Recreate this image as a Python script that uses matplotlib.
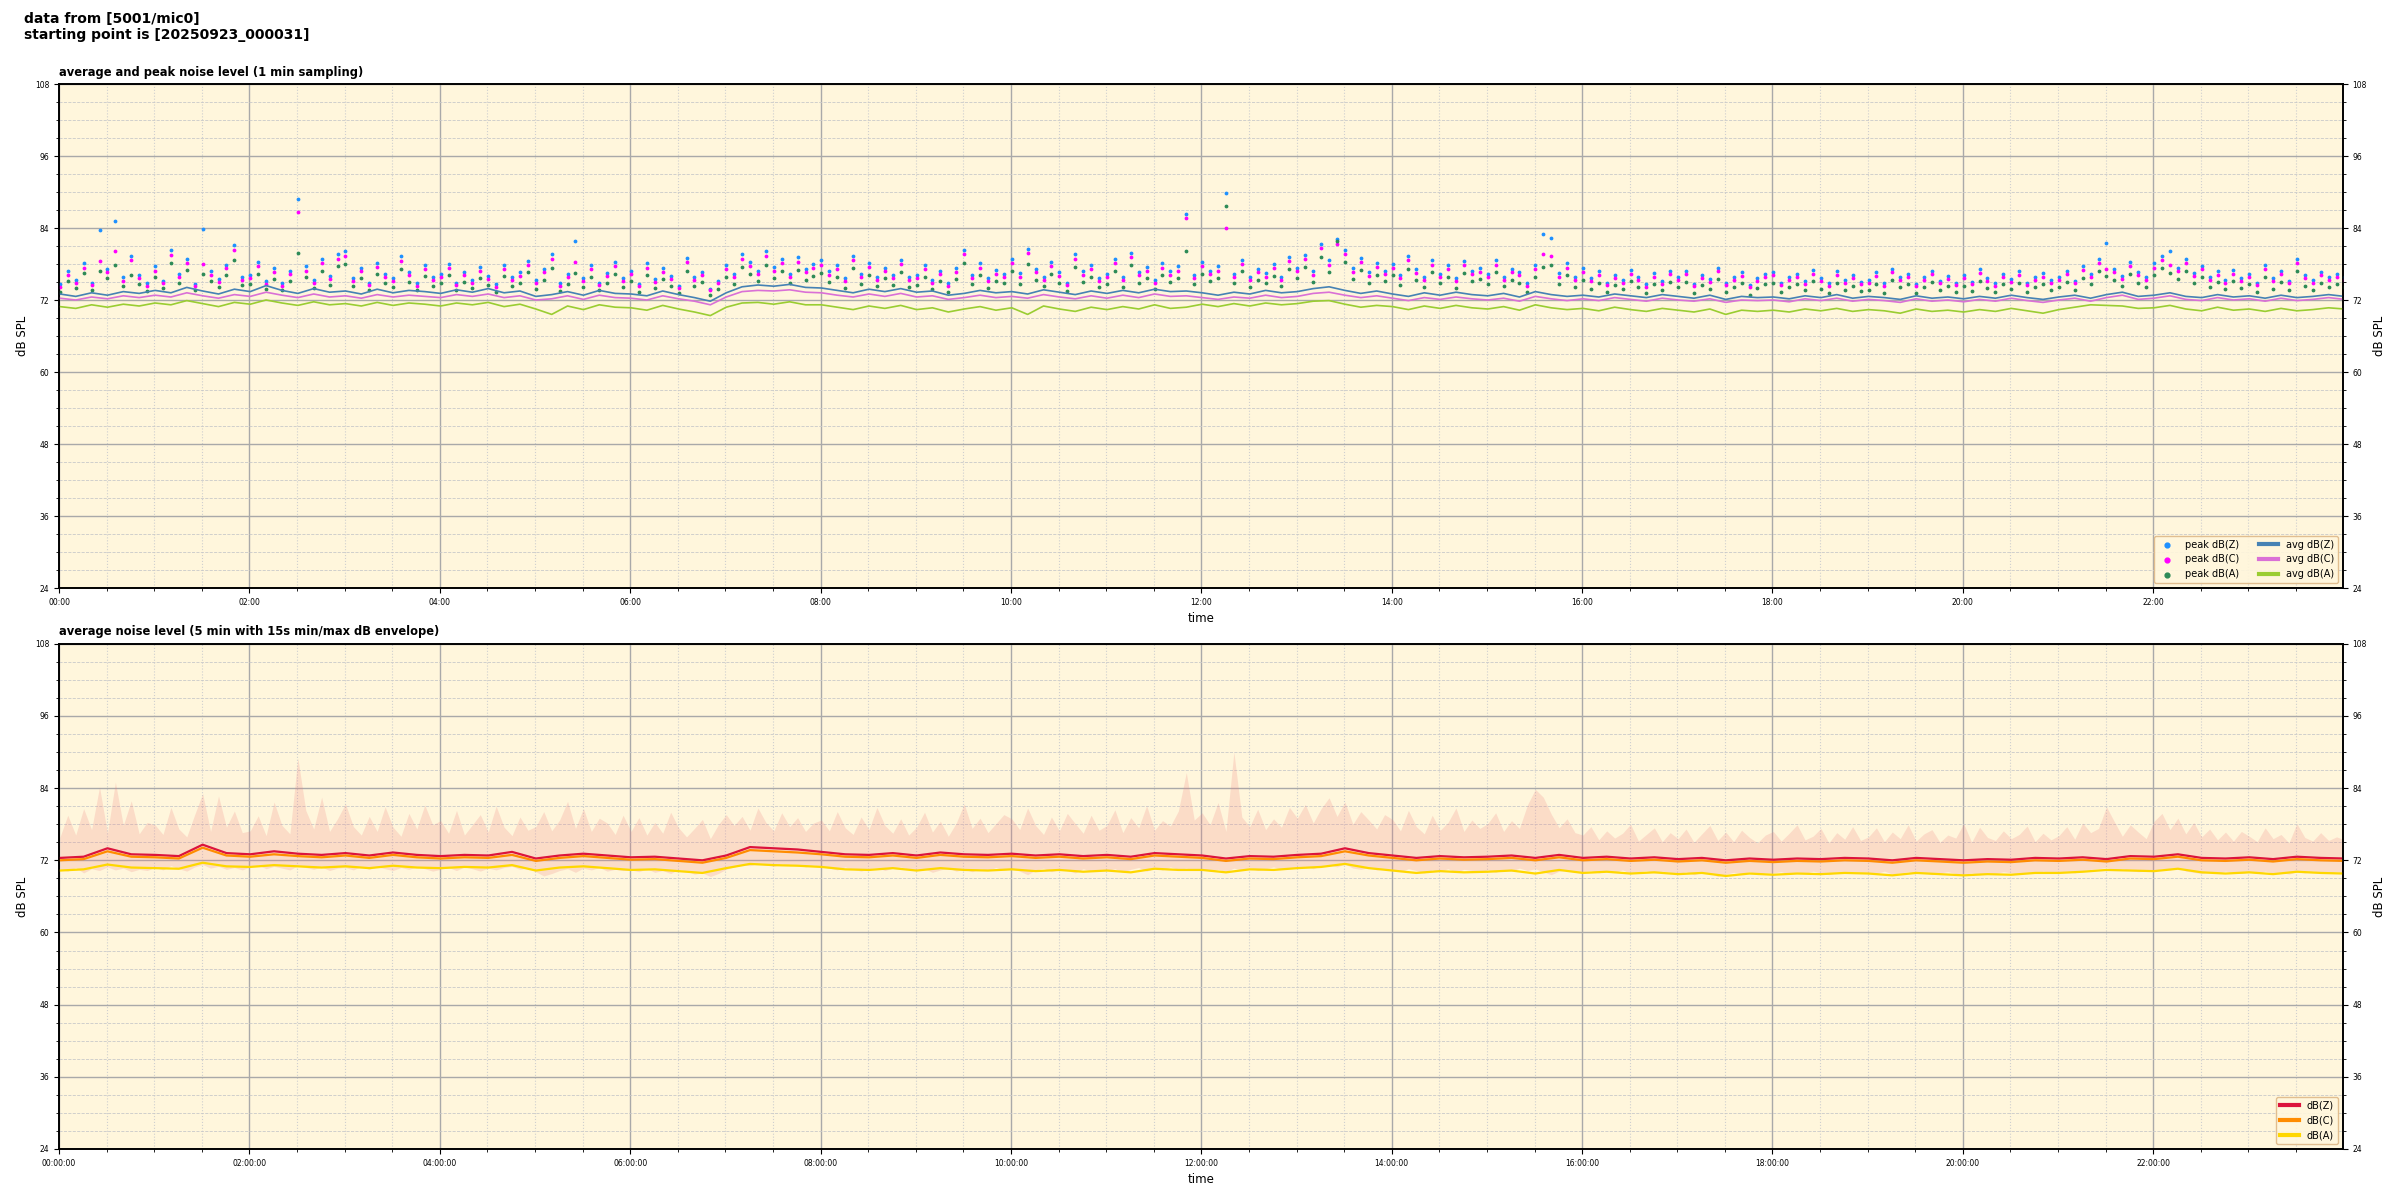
import numpy as np
import pandas as pd
import matplotlib
matplotlib.use("Agg")
import matplotlib.pyplot as plt
import matplotlib.dates as mdates
from matplotlib.ticker import MultipleLocator

# source / start of recording
source = "5001/mic0"
start_stamp = "20250923_000031"
day_start = pd.Timestamp("2025-09-23 00:00:00")
day_end = pd.Timestamp("2025-09-23 23:59:31")

# ---- top panel: 1 min sampling, values read every 10 min (avg) / 5 min (peak) ----
avg_z = [
    73.0, 72.6, 73.2, 72.8, 73.4, 73.1, 73.6, 73.2, 74.1, 73.5, 73.0, 73.8,
    73.4, 74.4, 73.6, 73.1, 73.9, 73.3, 73.5, 73.0, 73.8, 73.2, 73.6, 73.4,
    73.1, 73.7, 73.3, 73.9, 73.2, 73.5, 72.6, 72.9, 73.4, 72.8, 73.6, 73.1,
    73.0, 72.7, 73.5, 72.9, 72.4, 71.8, 73.2, 74.2, 74.5, 74.3, 74.6, 74.1,
    74.0, 73.6, 73.2, 73.8, 73.4, 73.9, 73.3, 73.5, 72.8, 73.1, 73.6, 73.2,
    73.4, 73.0, 73.7, 73.3, 72.9, 73.5, 73.1, 73.6, 73.2, 73.8, 73.4, 73.5,
    73.2, 72.8, 73.3, 73.0, 73.6, 73.2, 73.4, 73.9, 74.2, 73.6, 73.1, 73.5,
    73.0, 72.6, 73.2, 72.8, 73.3, 72.9, 72.7, 73.1, 72.5, 73.4, 72.9, 72.6,
    72.8, 72.5, 73.0, 72.7, 72.4, 72.9, 72.6, 72.3, 72.8, 72.1, 72.6, 72.4,
    72.5, 72.2, 72.7, 72.4, 72.9, 72.3, 72.6, 72.4, 72.1, 72.7, 72.3, 72.5,
    72.2, 72.6, 72.3, 72.8, 72.4, 72.1, 72.5, 72.8, 72.3, 72.9, 73.3, 72.6,
    72.8, 73.2, 72.6, 72.4, 72.9, 72.5, 72.7, 72.3, 72.8, 72.4, 72.6, 72.9,
    72.6,
]
avg_c = [
    72.3, 72.0, 72.5, 72.2, 72.7, 72.4, 72.8, 72.5, 73.2, 72.7, 72.3, 72.9,
    72.6, 73.3, 72.8, 72.4, 73.0, 72.5, 72.7, 72.3, 72.9, 72.5, 72.8, 72.6,
    72.4, 72.9, 72.6, 73.0, 72.4, 72.7, 72.0, 72.2, 72.7, 72.1, 72.8, 72.4,
    72.3, 72.0, 72.7, 72.2, 71.8, 71.2, 72.5, 73.4, 73.6, 73.5, 73.7, 73.3,
    73.2, 72.8, 72.5, 73.0, 72.6, 73.1, 72.5, 72.7, 72.1, 72.4, 72.8, 72.4,
    72.6, 72.3, 72.9, 72.5, 72.2, 72.7, 72.3, 72.8, 72.4, 73.0, 72.6, 72.7,
    72.4, 72.1, 72.5, 72.3, 72.8, 72.4, 72.6, 73.1, 73.3, 72.8, 72.4, 72.7,
    72.3, 71.9, 72.4, 72.1, 72.5, 72.2, 72.0, 72.3, 71.8, 72.6, 72.2, 71.9,
    72.2, 71.9, 72.4, 72.1, 71.8, 72.3, 72.0, 71.8, 72.2, 71.6, 72.0, 71.9,
    72.0, 71.7, 72.2, 71.9, 72.3, 71.8, 72.1, 71.9, 71.6, 72.2, 71.8, 72.0,
    71.7, 72.1, 71.8, 72.3, 71.9, 71.6, 72.0, 72.3, 71.8, 72.4, 72.8, 72.1,
    72.3, 72.7, 72.1, 71.9, 72.4, 72.0, 72.2, 71.8, 72.3, 71.9, 72.1, 72.4,
    72.1,
]
avg_a = [
    70.9, 70.6, 71.2, 70.8, 71.3, 71.0, 71.5, 71.2, 71.9, 71.4, 70.9, 71.6,
    71.3, 72.0, 71.5, 71.1, 71.7, 71.2, 71.4, 71.0, 71.6, 71.1, 71.5, 71.3,
    71.0, 71.5, 71.2, 71.6, 70.9, 71.3, 70.5, 69.6, 71.0, 70.4, 71.2, 70.8,
    70.7, 70.3, 71.1, 70.5, 70.0, 69.4, 70.8, 71.5, 71.6, 71.3, 71.7, 71.2,
    71.2, 70.8, 70.4, 71.0, 70.6, 71.1, 70.4, 70.7, 70.0, 70.5, 70.9, 70.3,
    70.7, 69.6, 71.0, 70.5, 70.1, 70.8, 70.4, 70.9, 70.5, 71.2, 70.6, 70.8,
    71.3, 70.9, 71.4, 71.0, 71.5, 71.2, 71.4, 71.8, 71.9, 71.3, 70.8, 71.1,
    70.9, 70.4, 71.0, 70.6, 71.1, 70.7, 70.5, 70.9, 70.3, 71.2, 70.7, 70.4,
    70.6, 70.2, 70.8, 70.4, 70.1, 70.6, 70.3, 70.0, 70.5, 69.6, 70.3, 70.1,
    70.3, 70.0, 70.5, 70.2, 70.6, 70.1, 70.4, 70.2, 69.8, 70.5, 70.1, 70.3,
    70.0, 70.4, 70.1, 70.6, 70.2, 69.8, 70.4, 70.8, 71.2, 71.1, 71.0, 70.6,
    70.7, 71.1, 70.5, 70.2, 70.8, 70.3, 70.5, 70.1, 70.6, 70.2, 70.4, 70.7,
    70.5,
]
peak_z = [
    74.6, 76.8, 75.3, 78.1, 74.9, 83.6, 77.2, 85.2, 75.8, 79.4, 76.1, 74.8,
    77.6, 75.2, 80.3, 76.4, 78.9, 74.7, 83.9, 76.8, 75.5, 77.9, 81.2, 75.9,
    76.2, 78.4, 75.1, 77.3, 74.8, 76.9, 88.9, 77.6, 75.4, 78.8, 76.0, 79.6,
    80.1, 75.7, 77.4, 74.9, 78.2, 76.3, 75.6, 79.3, 76.7, 74.8, 77.8, 75.9,
    76.4, 78.0, 74.9, 76.7, 75.3, 77.5, 76.0, 74.6, 77.9, 75.8, 76.6, 78.5,
    75.4, 77.2, 79.6, 74.8, 76.3, 81.9, 75.7, 77.8, 74.9, 76.5, 78.4, 75.6,
    76.9, 74.7, 78.1, 75.5, 77.3, 76.0, 74.4, 79.0, 75.8, 76.7, 73.9, 75.2,
    77.8, 76.3, 79.7, 78.4, 76.9, 80.2, 77.5, 78.8, 76.4, 79.1, 77.2, 78.0,
    78.6, 76.8, 77.9, 75.6, 79.4, 76.3, 78.2, 75.9, 77.4, 76.2, 78.7, 75.8,
    76.1, 77.8, 75.4, 76.9, 74.8, 77.3, 80.4, 76.2, 78.1, 75.6, 77.0, 76.4,
    78.8, 76.5, 80.5, 77.2, 75.9, 78.3, 76.6, 74.9, 79.6, 76.8, 77.9, 75.7,
    76.3, 78.9, 75.8, 79.9, 76.7, 77.5, 75.4, 78.1, 76.8, 77.6, 86.4, 76.2,
    78.3, 76.9, 77.6, 89.9, 76.4, 78.7, 75.8, 77.2, 76.5, 78.0, 75.9, 79.2,
    77.4, 79.5, 76.8, 81.3, 78.6, 82.1, 80.4, 77.3, 79.0, 76.6, 78.2, 76.9,
    78.0, 76.2, 79.3, 77.1, 75.8, 78.6, 76.4, 77.9, 75.6, 78.5, 76.9, 77.3,
    76.4, 78.6, 75.9, 77.2, 76.7, 74.8, 77.9, 83.0, 82.4, 76.5, 78.1, 75.8,
    77.3, 75.6, 76.8, 74.9, 76.2, 75.4, 77.0, 75.8, 74.6, 76.5, 75.2, 76.9,
    75.8, 76.9, 74.7, 76.2, 75.5, 77.4, 74.9, 75.9, 76.6, 74.5, 75.7, 76.3,
    76.7, 74.9, 75.8, 76.4, 75.1, 77.0, 75.6, 74.8, 76.8, 75.3, 76.1, 75.0,
    75.4, 76.6, 74.8, 77.2, 75.9, 76.3, 74.7, 75.8, 76.9, 75.2, 76.0, 74.9,
    76.2, 75.0, 77.1, 75.7, 74.8, 76.4, 75.5, 76.8, 74.9, 75.9, 76.5, 75.3,
    75.8, 76.9, 75.2, 77.6, 76.3, 78.8, 81.5, 77.2, 76.0, 78.3, 76.7, 75.9,
    78.1, 79.3, 80.1, 77.4, 78.9, 76.5, 77.7, 75.9, 76.8, 75.4, 77.0, 75.7,
    76.3, 74.9, 77.8, 75.6, 76.9, 75.2, 78.9, 76.1, 75.4, 76.7, 75.8, 76.4,
    75.9,
]
peak_c = [
    74.2, 76.1, 74.8, 77.4, 74.5, 78.5, 76.7, 80.1, 75.2, 78.6, 75.6, 74.3,
    76.9, 74.8, 79.5, 75.9, 78.2, 74.3, 78.0, 76.2, 75.0, 77.3, 80.4, 75.4,
    75.7, 77.6, 74.7, 76.6, 74.4, 76.3, 86.6, 76.9, 74.9, 78.1, 75.5, 78.8,
    79.4, 75.2, 76.8, 74.5, 77.5, 75.8, 75.1, 78.5, 76.1, 74.4, 77.2, 75.4,
    75.9, 77.3, 74.5, 76.1, 74.9, 76.8, 75.5, 74.2, 77.2, 75.3, 76.0, 77.8,
    74.9, 76.6, 78.9, 74.4, 75.8, 78.4, 75.2, 77.1, 74.5, 76.0, 77.7, 75.1,
    76.3, 74.3, 77.4, 75.0, 76.7, 75.5, 74.0, 78.3, 75.3, 76.1, 73.6, 74.8,
    77.1, 75.8, 78.9, 77.7, 76.3, 79.4, 76.9, 78.1, 75.9, 78.4, 76.6, 77.3,
    77.9, 76.2, 77.2, 75.1, 78.7, 75.8, 77.5, 75.4, 76.8, 75.7, 78.0, 75.3,
    75.6, 77.1, 74.9, 76.3, 74.4, 76.7, 79.6, 75.7, 77.4, 75.1, 76.4, 75.9,
    78.1, 75.9, 79.8, 76.6, 75.4, 77.6, 76.0, 74.5, 78.9, 76.2, 77.2, 75.2,
    75.8, 78.2, 75.3, 79.2, 76.1, 76.8, 74.9, 77.4, 76.2, 76.9, 85.6, 75.7,
    77.6, 76.3, 76.9, 84.0, 75.9, 78.0, 75.3, 76.6, 75.9, 77.3, 75.4, 78.5,
    76.8, 78.8, 76.2, 80.6, 77.9, 81.4, 79.7, 76.7, 78.3, 76.0, 77.5, 76.3,
    77.3, 75.7, 78.6, 76.5, 75.3, 77.9, 75.9, 77.2, 75.1, 77.8, 76.3, 76.7,
    75.9, 77.9, 75.4, 76.6, 76.1, 74.4, 77.2, 79.6, 79.3, 75.9, 77.4, 75.3,
    76.7, 75.1, 76.2, 74.5, 75.7, 74.9, 76.4, 75.3, 74.2, 75.9, 74.7, 76.3,
    75.3, 76.3, 74.3, 75.7, 75.0, 76.8, 74.5, 75.4, 76.0, 74.1, 75.2, 75.8,
    76.1, 74.5, 75.3, 75.9, 74.7, 76.4, 75.1, 74.4, 76.2, 74.9, 75.6, 74.6,
    74.9, 76.0, 74.4, 76.6, 75.4, 75.8, 74.3, 75.3, 76.3, 74.8, 75.5, 74.5,
    75.7, 74.6, 76.5, 75.2, 74.4, 75.9, 75.0, 76.2, 74.5, 75.4, 75.9, 74.9,
    75.3, 76.3, 74.8, 77.0, 75.8, 78.1, 77.2, 76.6, 75.5, 77.6, 76.1, 75.4,
    77.4, 78.6, 77.8, 76.8, 78.2, 76.0, 77.1, 75.4, 76.2, 74.9, 76.4, 75.2,
    75.8, 74.5, 77.1, 75.1, 76.3, 74.8, 78.2, 75.6, 74.9, 76.1, 75.3, 75.9,
    75.4,
]
peak_a = [
    73.4, 75.2, 74.0, 76.5, 73.7, 76.9, 75.6, 77.8, 74.3, 76.2, 74.6, 73.5,
    75.8, 74.0, 78.1, 74.8, 77.0, 73.6, 76.4, 75.1, 74.1, 76.2, 78.6, 74.5,
    74.7, 76.4, 73.9, 75.5, 73.6, 75.2, 79.9, 75.8, 74.0, 76.9, 74.5, 77.6,
    78.0, 74.3, 75.6, 73.7, 76.3, 74.8, 74.1, 77.2, 75.0, 73.6, 76.0, 74.4,
    74.9, 76.1, 73.7, 75.0, 74.0, 75.6, 74.5, 73.4, 76.0, 74.3, 74.9, 76.6,
    73.9, 75.4, 77.4, 73.5, 74.7, 76.5, 74.2, 75.9, 73.6, 74.9, 76.4, 74.1,
    75.2, 73.4, 76.2, 74.0, 75.5, 74.4, 73.1, 76.9, 74.3, 75.0, 72.8, 73.8,
    75.9, 74.7, 77.5, 76.4, 75.1, 77.9, 75.7, 76.8, 74.8, 77.0, 75.4, 76.0,
    76.5, 75.0, 75.9, 74.0, 77.3, 74.7, 76.1, 74.3, 75.6, 74.5, 76.7, 74.2,
    74.5, 75.9, 73.8, 75.1, 73.4, 75.5, 78.2, 74.6, 76.1, 74.0, 75.2, 74.8,
    76.8, 74.7, 78.0, 75.4, 74.3, 76.3, 74.9, 73.5, 77.5, 75.0, 75.9, 74.1,
    74.6, 76.9, 74.2, 77.8, 74.9, 75.6, 73.8, 76.1, 75.0, 75.7, 80.1, 74.6,
    76.4, 75.1, 75.7, 87.7, 74.8, 76.8, 74.2, 75.4, 74.8, 76.0, 74.3, 77.2,
    75.6, 77.5, 75.0, 79.2, 76.6, 81.9, 78.3, 75.5, 77.0, 74.9, 76.2, 75.1,
    76.1, 74.5, 77.2, 75.3, 74.2, 76.6, 74.8, 75.9, 74.0, 76.5, 75.1, 75.5,
    74.7, 76.6, 74.3, 75.4, 74.9, 73.3, 75.9, 77.5, 77.9, 74.7, 76.1, 74.2,
    75.4, 73.9, 74.9, 73.4, 74.5, 73.8, 75.1, 74.1, 73.1, 74.7, 73.6, 75.0,
    74.1, 75.0, 73.2, 74.5, 73.9, 75.5, 73.4, 74.2, 74.8, 72.9, 74.0, 74.6,
    74.8, 73.3, 74.1, 74.7, 73.6, 75.1, 73.9, 73.2, 74.9, 73.7, 74.4, 73.5,
    73.7, 74.7, 73.2, 75.3, 74.2, 74.6, 73.1, 74.1, 75.0, 73.6, 74.3, 73.4,
    74.4, 73.5, 75.2, 74.0, 73.3, 74.6, 73.8, 74.9, 73.4, 74.2, 74.7, 73.7,
    74.1, 75.0, 73.6, 75.7, 74.6, 76.8, 76.0, 75.3, 74.3, 76.3, 74.9, 74.2,
    76.1, 77.3, 76.5, 75.5, 76.9, 74.8, 75.8, 74.2, 75.0, 73.8, 75.1, 74.0,
    74.6, 73.4, 75.8, 73.9, 75.0, 73.6, 76.9, 74.4, 73.7, 74.9, 74.1, 74.7,
    74.2,
]

# ---- bottom panel: 5 min averages (read every 15 min) ----
lvl_z = [
    72.4, 72.6, 74.0, 73.0, 72.9, 72.7, 74.6, 73.2, 73.0, 73.5, 73.1, 72.9,
    73.2, 72.8, 73.3, 72.9, 72.7, 72.9, 72.8, 73.4, 72.3, 72.8, 73.1, 72.8,
    72.5, 72.6, 72.3, 72.0, 72.8, 74.2, 74.0, 73.8, 73.4, 73.0, 72.9, 73.2,
    72.8, 73.3, 73.0, 72.9, 73.1, 72.8, 73.0, 72.7, 72.9, 72.6, 73.2, 73.0,
    72.8, 72.3, 72.7, 72.6, 72.9, 73.1, 74.0, 73.2, 72.8, 72.4, 72.7, 72.5,
    72.6, 72.8, 72.4, 72.9, 72.4, 72.6, 72.3, 72.5, 72.2, 72.4, 72.0, 72.3,
    72.1, 72.3, 72.2, 72.4, 72.3, 72.0, 72.4, 72.2, 72.0, 72.2, 72.1, 72.4,
    72.3, 72.5, 72.2, 72.7, 72.6, 73.0, 72.4, 72.3, 72.5, 72.2, 72.6, 72.4,
    72.3,
]
lvl_c = [
    72.0, 72.2, 73.5, 72.6, 72.5, 72.3, 74.1, 72.8, 72.6, 73.0, 72.7, 72.5,
    72.8, 72.4, 72.9, 72.5, 72.3, 72.5, 72.4, 72.9, 71.9, 72.4, 72.7, 72.4,
    72.1, 72.2, 71.9, 71.6, 72.4, 73.7, 73.5, 73.3, 73.0, 72.6, 72.5, 72.8,
    72.4, 72.9, 72.6, 72.5, 72.7, 72.4, 72.6, 72.3, 72.5, 72.2, 72.8, 72.6,
    72.4, 71.9, 72.3, 72.2, 72.5, 72.7, 73.5, 72.8, 72.4, 72.0, 72.3, 72.1,
    72.2, 72.4, 72.0, 72.5, 72.0, 72.2, 71.9, 72.1, 71.8, 72.0, 71.6, 71.9,
    71.7, 71.9, 71.8, 72.0, 71.9, 71.6, 72.0, 71.8, 71.6, 71.8, 71.7, 72.0,
    71.9, 72.1, 71.8, 72.3, 72.2, 72.6, 72.0, 71.9, 72.1, 71.8, 72.2, 72.0,
    71.9,
]
lvl_a = [
    70.3, 70.5, 71.3, 70.8, 70.7, 70.6, 71.6, 71.0, 70.9, 71.2, 71.0, 70.8,
    71.0, 70.7, 71.1, 70.8, 70.7, 70.9, 70.8, 71.2, 70.3, 70.8, 71.0, 70.7,
    70.4, 70.5, 70.2, 69.9, 70.7, 71.4, 71.2, 71.1, 70.9, 70.5, 70.4, 70.7,
    70.3, 70.7, 70.4, 70.3, 70.5, 70.2, 70.4, 70.1, 70.3, 70.0, 70.6, 70.4,
    70.4, 70.0, 70.5, 70.4, 70.7, 70.9, 71.4, 70.7, 70.3, 69.9, 70.2, 70.0,
    70.1, 70.3, 69.8, 70.4, 69.9, 70.1, 69.8, 70.0, 69.7, 69.9, 69.4, 69.8,
    69.6, 69.8, 69.7, 69.9, 69.8, 69.5, 69.9, 69.7, 69.5, 69.7, 69.6, 69.9,
    69.9, 70.1, 70.4, 70.3, 70.2, 70.6, 70.0, 69.8, 70.0, 69.7, 70.1, 69.9,
    69.8,
]
# 15 s min/max envelope (read every 5 min)
env_max = [
    75.8, 79.5, 76.2, 80.6, 77.1, 84.2, 76.5, 85.0, 77.8, 81.9, 76.4, 78.3,
    77.9, 76.3, 80.8, 77.2, 75.9, 79.6, 83.1, 76.8, 82.7, 77.5, 80.2, 76.6,
    76.9, 79.4, 76.1, 81.7, 77.8, 76.4, 89.0, 80.3, 77.2, 82.5, 76.8, 78.9,
    81.4, 77.6, 76.2, 79.3, 76.8, 80.9, 77.5, 76.0, 79.8, 77.2, 81.2, 77.9,
    78.6, 76.5, 80.3, 76.2, 77.9, 79.6, 76.7, 81.0, 77.5, 76.1, 79.2, 77.0,
    77.6, 80.1, 76.9, 78.7, 81.8, 77.3, 80.6, 76.8, 79.0, 78.2, 76.3, 79.5,
    76.8, 79.1, 76.2, 78.3, 76.5, 80.0, 77.4, 75.9, 77.3, 78.8, 75.6, 77.9,
    79.6, 77.8, 79.3, 77.0, 80.7, 78.3, 76.9, 79.9, 77.6, 79.1, 76.8, 78.2,
    78.7, 76.9, 80.1, 77.4, 76.3, 79.2, 77.1, 80.8, 77.8, 76.5, 78.9, 76.2,
    77.5, 80.0, 76.7, 78.5, 76.0, 78.2, 81.4, 77.3, 79.0, 76.6, 78.1, 79.6,
    78.9, 77.1, 80.7, 77.8, 76.3, 79.2, 76.9, 79.8, 78.1, 76.5, 79.5, 77.0,
    77.8, 80.4, 76.6, 79.1, 77.4, 81.1, 77.0, 78.6, 77.7, 80.2, 86.6, 78.7,
    79.9, 77.9, 81.6, 76.8, 90.0, 79.2, 77.6, 80.5, 77.1, 78.9, 77.5, 80.8,
    79.0, 81.3, 78.2, 80.6, 82.4, 79.3, 81.7, 78.0, 80.1, 78.7, 77.2, 79.6,
    78.8, 76.9, 80.3, 77.6, 76.4, 79.5, 77.0, 78.3, 80.7, 76.8, 78.7, 77.3,
    78.1, 79.9, 76.8, 78.6, 77.3, 81.2, 83.8, 82.5, 79.7, 77.4, 78.9, 76.6,
    76.2, 77.6, 75.4, 76.9, 75.7, 76.5, 78.0, 75.2, 76.3, 77.4, 75.1, 76.6,
    75.6, 77.2, 75.0, 76.4, 77.8, 75.3, 76.7, 75.1, 77.0, 75.8, 74.9, 76.2,
    76.8, 75.2, 76.5, 77.9, 75.4, 76.0, 77.3, 74.9, 76.6, 75.5, 77.6, 75.3,
    75.9, 77.4, 75.1, 76.7, 75.6, 77.9, 75.2, 76.4, 77.1, 75.0, 76.2, 75.7,
    78.1, 75.0, 77.5, 75.8, 75.3, 76.9, 75.6, 76.3, 77.7, 75.1, 76.5, 75.4,
    76.1, 77.6, 75.5, 78.2, 76.6, 77.3, 80.9, 78.4, 76.0, 77.9, 76.7, 75.6,
    78.5, 79.8, 77.1, 79.0, 76.4, 78.3, 75.9, 77.2, 75.4, 76.7, 75.2, 76.8,
    76.0, 75.1, 77.4, 75.6, 76.3, 74.9, 78.1, 75.8, 75.2, 76.6, 75.3, 75.9,
    75.4,
]
env_min = [
    70.5, 70.2, 70.8, 69.9, 70.6, 70.3, 70.9, 70.4, 70.7, 70.1, 70.5, 70.3,
    70.8, 70.4, 71.1, 70.6, 70.2, 70.9, 71.3, 70.7, 71.0, 70.5, 70.8, 70.4,
    70.9, 71.2, 70.6, 71.0, 70.7, 70.4, 71.1, 70.8, 70.5, 70.9, 70.3, 70.7,
    70.8, 70.4, 71.0, 70.5, 70.9, 70.6, 70.3, 70.8, 70.5, 70.9, 70.6, 70.2,
    70.5, 70.8, 70.3, 70.9, 70.6, 70.2, 70.7, 70.4, 70.8, 71.0, 70.5, 70.7,
    70.1, 69.4, 69.8, 70.3, 70.6, 70.0, 70.7, 70.4, 70.8, 70.2, 70.5, 70.3,
    70.4, 70.1, 70.6, 70.0, 70.3, 69.8, 70.5, 70.2, 69.7, 69.9, 69.3, 69.8,
    70.5, 70.9, 71.3, 71.1, 71.5, 71.2, 71.0, 71.4, 71.1, 71.3, 70.9, 71.2,
    71.0, 70.7, 70.4, 70.9, 70.5, 70.2, 70.6, 70.8, 70.3, 70.7, 70.9, 70.5,
    70.3, 70.6, 70.0, 70.4, 70.7, 70.2, 70.5, 70.1, 70.6, 70.3, 70.8, 70.4,
    70.6, 70.2, 69.6, 70.4, 70.7, 70.1, 70.5, 70.3, 69.9, 70.6, 70.2, 70.4,
    70.3, 70.6, 70.0, 70.5, 70.8, 70.2, 70.7, 70.4, 70.9, 70.5, 70.7, 70.3,
    70.6, 70.2, 70.5, 70.1, 70.7, 70.4, 70.8, 70.3, 70.6, 70.9, 70.5, 70.7,
    70.8, 71.0, 70.6, 71.1, 71.3, 70.9, 71.4, 70.7, 70.5, 70.8, 70.4, 70.6,
    70.5, 70.1, 70.6, 70.3, 69.9, 70.4, 70.2, 70.6, 70.0, 70.5, 70.3, 70.1,
    70.4, 70.0, 70.5, 70.2, 70.7, 70.3, 70.6, 70.1, 69.6, 70.2, 70.4, 70.0,
    70.1, 70.3, 69.9, 70.2, 70.0, 70.4, 69.8, 70.1, 70.3, 69.9, 70.2, 70.0,
    69.8, 70.1, 69.6, 70.0, 69.9, 69.3, 69.7, 70.0, 69.8, 70.1, 69.6, 69.9,
    69.9, 70.1, 69.7, 70.0, 69.8, 70.2, 69.9, 69.6, 70.0, 69.8, 70.1, 69.9,
    70.0, 69.8, 70.2, 69.7, 69.9, 70.1, 69.8, 70.0, 69.6, 69.9, 70.1, 69.8,
    69.7, 69.9, 69.6, 70.0, 69.8, 70.1, 69.9, 69.7, 70.0, 69.8, 70.2, 69.9,
    70.0, 70.2, 69.9, 70.3, 70.5, 70.6, 70.8, 70.4, 70.6, 70.3, 70.1, 70.2,
    70.3, 70.6, 70.4, 70.8, 70.2, 70.0, 69.8, 70.1, 69.9, 70.2, 70.0, 69.8,
    70.1, 69.8, 70.2, 69.9, 70.0, 69.7, 70.1, 69.9, 70.2, 70.0, 69.8, 70.1,
    69.9,
]

t0 = pd.Timestamp("2025-09-23 00:00:31")
t_avg = pd.date_range(t0, periods=len(avg_z), freq="10min")
t_peak = pd.date_range(t0, periods=len(peak_z), freq="5min")
t_lvl = pd.date_range(t0, periods=len(lvl_z), freq="15min")
t_env = pd.date_range(t0, periods=len(env_max), freq="5min")

bg = "#fff6dc"


def style_axes(ax, fmt):
    ax.set_facecolor(bg)
    ax.set_xlim(day_start, day_end)
    ax.set_ylim(24, 108)
    ax.yaxis.set_major_locator(MultipleLocator(12))
    ax.yaxis.set_minor_locator(MultipleLocator(3))
    ax.xaxis.set_major_locator(mdates.HourLocator(interval=2))
    ax.xaxis.set_minor_locator(mdates.MinuteLocator(byminute=[0, 30]))
    ax.xaxis.set_major_formatter(mdates.DateFormatter(fmt))
    ax.grid(which="major", color="#a9a9a9", linewidth=1.0)
    ax.yaxis.grid(which="minor", color="#c9c9c9", linestyle="--", linewidth=0.6)
    ax.xaxis.grid(which="minor", color="#cfcfcf", linestyle=":", linewidth=0.8)
    ax.tick_params(labelsize=5.5)
    ax.set_xlabel("time", fontsize=8.5)
    ax.set_ylabel("dB SPL", fontsize=8.5)
    # same scale on the right side
    ax2 = ax.twinx()
    ax2.set_ylim(24, 108)
    ax2.yaxis.set_major_locator(MultipleLocator(12))
    ax2.yaxis.set_minor_locator(MultipleLocator(3))
    ax2.tick_params(labelsize=5.5)
    ax2.set_ylabel("dB SPL", fontsize=8.5)
    for sp in list(ax.spines.values()) + list(ax2.spines.values()):
        sp.set_linewidth(1.2)


fig = plt.figure(figsize=(24, 12), dpi=100)
ax_top = fig.add_axes([0.0246, 0.51, 0.9516, 0.42])
ax_bot = fig.add_axes([0.0246, 0.0425, 0.9516, 0.421])

fig.text(0.01, 0.99, f"data from [{source}]\nstarting point is [{start_stamp}]",
         fontsize=10, fontweight="bold", va="top", ha="left")

# top panel
ax_top.scatter(t_peak, peak_z, s=3, color="dodgerblue", label="peak dB(Z)", zorder=3)
ax_top.scatter(t_peak, peak_c, s=3, color="magenta", label="peak dB(C)", zorder=3)
ax_top.scatter(t_peak, peak_a, s=3, color="seagreen", label="peak dB(A)", zorder=3)
ax_top.plot(t_avg, avg_z, color="steelblue", lw=1.2, label="avg dB(Z)", zorder=4)
ax_top.plot(t_avg, avg_c, color="orchid", lw=1.2, label="avg dB(C)", zorder=4)
ax_top.plot(t_avg, avg_a, color="yellowgreen", lw=1.2, label="avg dB(A)", zorder=4)
style_axes(ax_top, "%H:%M")
ax_top.set_title("average and peak noise level (1 min sampling)", loc="left",
                 fontsize=8.3, fontweight="bold")
leg = ax_top.legend(loc="lower right", ncol=2, fontsize=7, markerscale=2,
                    facecolor=bg, edgecolor="burlywood", framealpha=0.9)
for ln in leg.get_lines():
    ln.set_linewidth(3)

# bottom panel
ax_bot.fill_between(t_env, env_min, env_max, color="lightcoral", alpha=0.22,
                    linewidth=0, zorder=2)
ax_bot.plot(t_lvl, lvl_z, color="crimson", lw=1.6, label="dB(Z)", zorder=4)
ax_bot.plot(t_lvl, lvl_c, color="darkorange", lw=1.6, label="dB(C)", zorder=4)
ax_bot.plot(t_lvl, lvl_a, color="gold", lw=1.6, label="dB(A)", zorder=4)
style_axes(ax_bot, "%H:%M:%S")
ax_bot.set_title("average noise level (5 min with 15s min/max dB envelope)", loc="left",
                 fontsize=8.3, fontweight="bold")
leg2 = ax_bot.legend(loc="lower right", fontsize=7, facecolor=bg,
                     edgecolor="burlywood", framealpha=0.9)
for ln in leg2.get_lines():
    ln.set_linewidth(3)

fig.savefig("out.png", dpi=100)
